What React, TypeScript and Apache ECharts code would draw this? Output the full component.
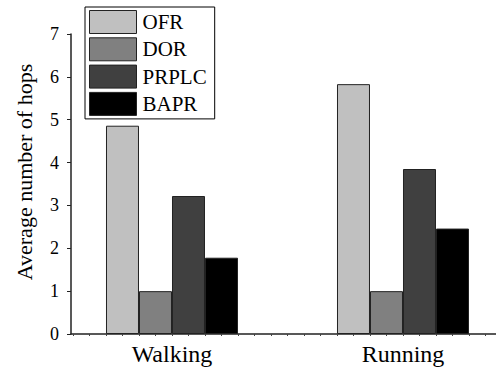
import React, { useEffect, useRef } from "react";
import * as echarts from "echarts";

const categories = ["Walking", "Running"];
const seriesNames = ["OFR", "DOR", "PRPLC", "BAPR"];
const ofr = [4.86, 5.83];
const dor = [1.0, 1.0];
const prplc = [3.22, 3.85];
const bapr = [1.78, 2.46];
const colors = ["#c0c0c0", "#808080", "#404040", "#000000"];
const yTicks = [0, 1, 2, 3, 4, 5, 6, 7];

const FONT = "Liberation Serif";

export default function App() {
  const ref = useRef<HTMLDivElement>(null);
  useEffect(() => {
    if (!ref.current) return;
    const chart = echarts.init(ref.current, null, { renderer: "svg" });
    const allValues = [ofr, dor, prplc, bapr];
    const catPos = categories.map((_, i) => i + 1);
    const minorTicks: number[] = [];
    for (let k = -6; k <= 19; k++) minorTicks.push(1 + k / 14);
    chart.setOption({
      animation: false,
      textStyle: { fontFamily: FONT },
      grid: { left: 71, right: 0, top: 34, bottom: 35 },
      legend: {
        orient: "vertical",
        left: 85,
        top: 7,
        padding: [3, 8, 3, 4],
        itemWidth: 47,
        itemHeight: 23,
        itemGap: 3.3,
        borderColor: "#000",
        borderWidth: 1,
        backgroundColor: "#fff",
        icon: "rect",
        itemStyle: { borderColor: "#222", borderWidth: 1 },
        textStyle: { fontFamily: FONT, fontSize: 21, color: "#000", padding: [0, 0, 0, 1] },
        data: seriesNames,
      },
      xAxis: {
        type: "value",
        min: 0.5628,
        max: 2.4026,
        splitLine: { show: false },
        axisLine: { show: true, lineStyle: { color: "#222", width: 1.5 } },
        axisTick: { show: true, customValues: minorTicks, length: 2, lineStyle: { color: "#444" } },
        axisLabel: {
          customValues: catPos,
          formatter: (v: number) => categories[Math.round(v) - 1] ?? "",
          fontFamily: FONT,
          fontSize: 24,
          color: "#000",
          margin: 8,
        },
      },
      yAxis: {
        type: "value",
        min: 0,
        max: 7,
        interval: 1,
        splitLine: { show: false },
        axisLine: { show: true, lineStyle: { color: "#222", width: 1.5 } },
        axisTick: { show: true, length: 4, lineStyle: { color: "#222" } },
        axisLabel: {
          fontFamily: FONT,
          fontSize: 18,
          color: "#000",
          margin: 12,
          formatter: (v: number) => (yTicks.includes(v) ? String(v) : ""),
        },
      },
      graphic: [
        {
          type: "text",
          x: 24,
          y: 172,
          rotation: Math.PI / 2,
          style: {
            text: "Average number of hops",
            fontFamily: FONT,
            fontSize: 22,
            fill: "#000",
            textAlign: "center",
            textVerticalAlign: "middle",
          },
        },
      ],
      series: seriesNames.map((name, i) => ({
        name,
        type: "bar",
        barWidth: 33,
        barGap: "0%",
        itemStyle: { color: colors[i], borderColor: "#222", borderWidth: 1 },
        data: catPos.map((x, j) => [x, allValues[i][j]]),
      })),
    });
    return () => chart.dispose();
  }, []);
  return <div ref={ref} style={{ width: 496, height: 369, position: "absolute", left: 0, top: 0 }} />;
}
